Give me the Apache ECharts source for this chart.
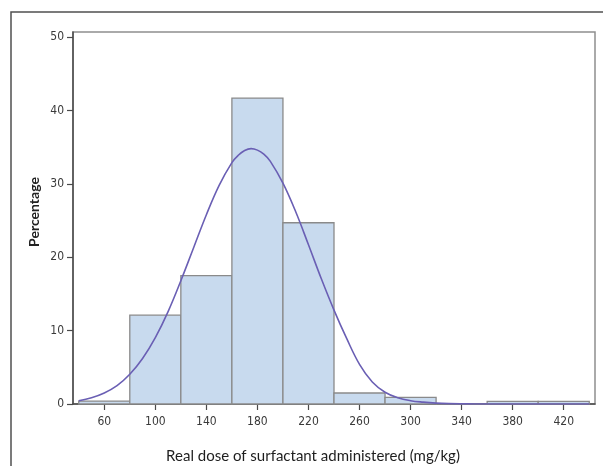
<!DOCTYPE html>
<html>
<head>
<meta charset="utf-8">
<script src="https://cdn.jsdelivr.net/npm/echarts@6/dist/echarts.min.js"></script>
<style>
  html, body { margin: 0; padding: 0; background: #ffffff; }
  #chart { width: 603px; height: 466px; }
</style>
</head>
<body>
<div id="chart"></div>
<script>
// Histogram bins (mg/kg): left edges, common width, percentage per bin
const binStarts = [40, 80, 120, 160, 200, 240, 280, 320, 360, 400];
const binWidth = 40;
const binPercent = [0.4, 12.1, 17.5, 41.7, 24.7, 1.5, 0.9, 0, 0.35, 0.35];

// Fitted normal density curve, scaled to percent per bin
const curveX = [40, 50, 60, 70, 80, 90, 100, 110, 120, 130, 140, 150, 160, 165, 170, 175, 180,
                185, 190, 200, 210, 220, 230, 240, 250, 260, 270, 280, 290, 300, 310, 320,
                330, 340, 350, 360, 380, 400, 420, 440];
const curveY = [0.45, 0.85, 1.5, 2.5, 4.05, 6.2, 9.05, 12.6, 16.8, 21.3, 25.8, 29.8, 32.9, 33.9, 34.55, 34.8, 34.6,
                34.05, 33.1, 30.1, 26.2, 21.7, 17.1, 12.8, 8.9, 5.4, 3.0, 1.6, 0.85, 0.45, 0.25, 0.12,
                0.05, 0.02, 0.01, 0, 0, 0, 0, 0];

// Axis ticks
const xTicks = [60, 100, 140, 180, 220, 260, 300, 340, 380, 420];
const yTicks = [0, 10, 20, 30, 40, 50];

const xTitle = 'Real dose of surfactant administered (mg/kg)';
const yTitle = 'Percentage';

const chart = echarts.init(document.getElementById('chart'), null, { renderer: 'canvas' });

const histData = binStarts.map((s, i) => [s, s + binWidth, binPercent[i]]);
const curveData = curveX.map((x, i) => [x, curveY[i]]);

const tickFont = {
  fontFamily: '"Liberation Sans Narrow", "DejaVu Sans Condensed", sans-serif',
  fontSize: 12,
  color: '#3a3a3a'
};

chart.setOption({
  animation: false,
  backgroundColor: '#ffffff',
  grid: {
    left: 73, right: 8, top: 32, bottom: 62,
    show: true,
    borderColor: '#8e8e8e',
    borderWidth: 1.5,
    backgroundColor: 'transparent'
  },
  xAxis: {
    type: 'value',
    min: 35.5,
    max: 444.5,
    splitLine: { show: false },
    axisLine: { show: true, onZero: false, lineStyle: { color: '#4a4a4a', width: 1.5 } },
    axisTick: { show: true, length: 6, customValues: xTicks, lineStyle: { color: '#4a4a4a', width: 1.2 } },
    axisLabel: Object.assign({ margin: 12, customValues: xTicks }, tickFont)
  },
  yAxis: {
    type: 'value',
    min: 0,
    max: 50.7,
    splitLine: { show: false },
    axisLine: { show: true, lineStyle: { color: '#4a4a4a', width: 1.5 } },
    axisTick: { show: true, length: 6, customValues: yTicks, lineStyle: { color: '#4a4a4a', width: 1.2 } },
    axisLabel: Object.assign({ margin: 9, customValues: yTicks }, tickFont)
  },
  graphic: [
    {
      type: 'rect',
      silent: true,
      shape: { x: 11, y: 12, width: 640, height: 520 },
      style: { fill: 'none', stroke: '#505050', lineWidth: 1.5 }
    },
    {
      type: 'text',
      silent: true,
      x: 34, y: 212,
      rotation: Math.PI / 2,
      style: {
        text: yTitle,
        fontFamily: 'Lato, "Open Sans", sans-serif',
        fontSize: 14,
        fontWeight: 'bold',
        fill: '#222222',
        align: 'center',
        verticalAlign: 'middle'
      }
    },
    {
      type: 'text',
      silent: true,
      x: 313, y: 456,
      style: {
        text: xTitle,
        fontFamily: 'Lato, "Open Sans", sans-serif',
        fontSize: 15,
        fill: '#1e1e1e',
        align: 'center',
        verticalAlign: 'middle'
      }
    }
  ],
  series: [
    {
      type: 'custom',
      name: 'histogram',
      data: histData,
      encode: { x: [0, 1], y: 2 },
      renderItem: function (params, api) {
        const p0 = api.coord([api.value(0), api.value(2)]);
        const p1 = api.coord([api.value(1), 0]);
        return {
          type: 'rect',
          shape: { x: p0[0], y: p0[1], width: p1[0] - p0[0], height: p1[1] - p0[1] },
          style: { fill: '#c8daee', stroke: '#8a8a8a', lineWidth: 1.3 }
        };
      },
      z: 2
    },
    {
      type: 'line',
      name: 'normal',
      data: curveData,
      smooth: 0.4,
      showSymbol: false,
      lineStyle: { color: '#6a5fb4', width: 1.6 },
      z: 3
    }
  ]
});
</script>
</body>
</html>
